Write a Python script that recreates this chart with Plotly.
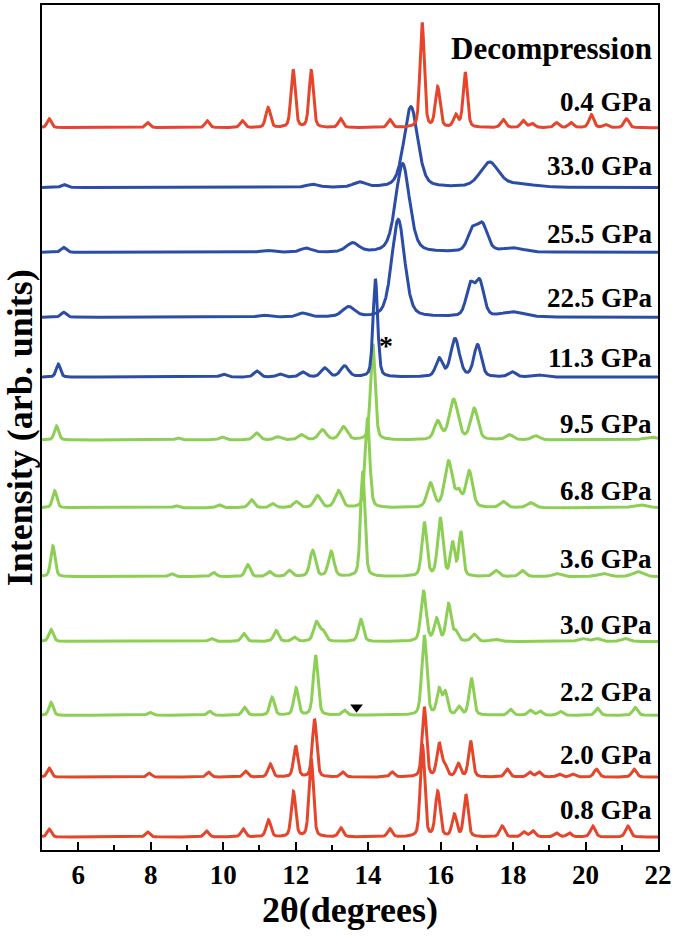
import numpy as np
import plotly.graph_objects as go

# stacked XRD patterns, bottom to top; heights/offsets in arb. units
labels = ["0.8 GPa", "2.0 GPa", "2.2 GPa", "3.0 GPa", "3.6 GPa", "6.8 GPa",
          "9.5 GPa", "11.3 GPa", "22.5 GPa", "25.5 GPa", "33.0 GPa", "0.4 GPa"]
offsets = [13, 73, 135, 209, 274, 343, 411, 474, 534, 599, 664, 724]
label_y = [40, 95, 158, 226, 292, 360, 427, 493, 553, 617, 686, 750]

RED, GREEN, BLUE = "#E4452B", "#8DCF55", "#2C4DA6"
colors = [RED, RED, GREEN, GREEN, GREEN, GREEN, GREEN, BLUE, BLUE, BLUE, BLUE, RED]

# peak positions (2theta), heights, widths (fwhm) for each pattern
pos_08 = [5.2, 7.92, 9.54, 10.55, 11.25, 11.94, 12.43, 13.25, 14.6, 15.5, 15.92, 16.38, 16.7, 17.7, 18.3, 18.55, 19.2, 19.55, 20.2, 21.17]
hgt_08 = [8, 5, 6, 8, 17, 45, 78, 9, 8, 92, 45, 22, 42, 11, 5, 6, 4, 4, 11, 11]
wid_08 = [0.14, 0.15, 0.15, 0.15, 0.15, 0.14, 0.14, 0.15, 0.15, 0.14, 0.15, 0.15, 0.14, 0.16, 0.16, 0.16, 0.16, 0.16, 0.16, 0.16]

pos_20 = [5.2, 7.96, 9.6, 10.62, 11.3, 12.0, 12.52, 13.3, 14.67, 15.55, 15.96, 16.12, 16.49, 16.83, 17.84, 18.46, 18.72, 19.27, 19.64, 20.3, 21.34]
hgt_20 = [9, 4, 5, 6, 13, 31, 58, 5, 5, 70, 33, 11, 13, 36, 8, 5, 5, 3, 3, 8, 8]
wid_20 = [0.14, 0.15, 0.15, 0.15, 0.15, 0.14, 0.14, 0.15, 0.15, 0.14, 0.15, 0.15, 0.15, 0.14, 0.16, 0.16, 0.16, 0.16, 0.16, 0.16, 0.16]

pos_22 = [5.25, 7.98, 9.63, 10.59, 11.35, 12.01, 12.55, 13.35, 15.55, 15.96, 16.13, 16.51, 16.85, 17.93, 18.48, 18.75, 19.3, 20.33, 21.37]
hgt_22 = [13, 3, 4, 8, 18, 27, 60, 5, 80, 25, 22, 8, 37, 6, 5, 4, 4, 7, 8]
wid_22 = [0.14, 0.15, 0.15, 0.15, 0.15, 0.15, 0.15, 0.15, 0.16, 0.15, 0.15, 0.15, 0.15, 0.16, 0.16, 0.16, 0.16, 0.16, 0.16]

pos_30 = [5.25, 9.67, 10.57, 11.46, 11.97, 12.57, 12.75, 13.8, 15.53, 15.89, 16.22, 16.42, 16.93, 17.5, 19.9, 20.3, 21.1]
hgt_30 = [12, 3, 8, 11, 4, 19, 10, 22, 50, 22, 37, 9, 7, 2, 3, 3, 3]
wid_30 = [0.15, 0.16, 0.16, 0.16, 0.16, 0.18, 0.18, 0.16, 0.17, 0.16, 0.16, 0.16, 0.18, 0.25, 0.25, 0.25, 0.25]

pos_36 = [5.3, 8.57, 9.74, 10.68, 11.28, 11.83, 12.47, 12.98, 13.85, 15.55, 15.99, 16.33, 16.56, 17.53, 18.26, 19.2, 20.5, 21.45]
hgt_36 = [31, 3, 4, 12, 5, 6, 26, 25, 106, 54, 58, 33, 44, 6, 6, 3, 3, 5]
wid_36 = [0.14, 0.16, 0.16, 0.16, 0.18, 0.18, 0.18, 0.18, 0.14, 0.16, 0.17, 0.14, 0.14, 0.2, 0.2, 0.25, 0.35, 0.35]

pos_68 = [5.35, 8.7, 9.88, 10.78, 11.37, 12.02, 12.6, 13.18, 13.98, 15.72, 16.22, 16.5, 16.79, 17.73, 18.49, 21.5]
hgt_68 = [17, 2, 3, 8, 4, 6, 12, 17, 90, 24, 46, 14, 36, 6, 5, 3]
wid_68 = [0.14, 0.16, 0.16, 0.18, 0.18, 0.2, 0.22, 0.22, 0.15, 0.22, 0.25, 0.18, 0.22, 0.22, 0.25, 0.45]

pos_95 = [5.4, 8.75, 9.96, 10.92, 11.5, 12.16, 12.74, 13.32, 14.13, 15.92, 16.36, 16.93, 17.9, 18.63, 21.8]
hgt_95 = [14, 2, 3, 7, 3, 5, 10, 13, 96, 18, 40, 31, 5, 4, 3]
wid_95 = [0.14, 0.16, 0.18, 0.2, 0.2, 0.22, 0.24, 0.24, 0.15, 0.22, 0.28, 0.24, 0.24, 0.25, 0.45]

pos_113 = [5.45, 10.0, 10.93, 11.56, 12.2, 12.8, 13.35, 14.2, 15.96, 16.4, 17.02, 17.98, 18.7]
hgt_113 = [13, 3, 6, 3, 5, 9, 11, 98, 18, 38, 32, 5, 2]
wid_113 = [0.14, 0.2, 0.2, 0.2, 0.22, 0.24, 0.26, 0.15, 0.22, 0.28, 0.24, 0.24, 0.35]

pos_225 = [5.6, 11.1, 12.2, 13.46, 14.83, 16.82, 17.08, 18.0]
hgt_225 = [5, 2, 4, 10, 98, 31, 34, 5]
wid_225 = [0.18, 0.35, 0.35, 0.4, 0.42, 0.27, 0.27, 0.7]

pos_255 = [5.6, 11.19, 12.29, 13.57, 14.95, 16.87, 17.15, 18.0]
hgt_255 = [5, 2, 4, 9, 89, 20, 27, 4]
wid_255 = [0.18, 0.35, 0.35, 0.4, 0.45, 0.3, 0.34, 0.7]

pos_330 = [5.6, 12.47, 13.76, 15.18, 17.35, 18.2]
hgt_330 = [3, 3, 5, 81, 25, 3]
wid_330 = [0.18, 0.4, 0.4, 0.45, 0.6, 0.9]

pos_04 = [5.2, 7.92, 9.56, 10.53, 11.24, 11.93, 12.43, 13.24, 14.6, 15.49, 15.92, 16.42, 16.68, 17.73, 18.28, 18.53, 19.2, 19.6, 20.16, 20.55, 21.13]
hgt_04 = [9, 5, 7, 7, 20, 58, 57, 9, 8, 105, 40, 12, 55, 8, 7, 4, 5, 5, 13, 3, 9]
wid_04 = [0.14, 0.15, 0.15, 0.15, 0.15, 0.14, 0.14, 0.15, 0.15, 0.14, 0.15, 0.15, 0.14, 0.16, 0.16, 0.16, 0.16, 0.16, 0.16, 0.16, 0.16]

peaks = [(pos_08, hgt_08, wid_08), (pos_20, hgt_20, wid_20), (pos_22, hgt_22, wid_22),
         (pos_30, hgt_30, wid_30), (pos_36, hgt_36, wid_36), (pos_68, hgt_68, wid_68),
         (pos_95, hgt_95, wid_95), (pos_113, hgt_113, wid_113), (pos_225, hgt_225, wid_225),
         (pos_255, hgt_255, wid_255), (pos_330, hgt_330, wid_330), (pos_04, hgt_04, wid_04)]

x = np.arange(5.0, 22.0001, 0.004)


def profile(pos, hgt, wid, eta=0.35):
    y = np.zeros_like(x)
    for p, h, w in zip(pos, hgt, wid):
        g = np.exp(-4 * np.log(2) * ((x - p) / w) ** 2)
        lor = 1 / (1 + 4 * ((x - p) / w) ** 2)
        y += h * ((1 - eta) * g + eta * lor)
    return y


fig = go.Figure()
for (pos, hgt, wid), off, col in zip(peaks, offsets, colors):
    fig.add_trace(go.Scatter(x=x, y=off + profile(pos, hgt, wid), mode="lines",
                             line=dict(color=col, width=3), hoverinfo="skip"))

# down triangle marker
fig.add_trace(go.Scatter(x=[13.68], y=[143], mode="markers",
                         marker=dict(symbol="triangle-down", size=11, color="black")))

serif = "Liberation Serif, Times New Roman, serif"
ann = [dict(x=0.993, y=ly, xref="paper", yref="y", text=f"<b>{t}</b>", showarrow=False,
            xanchor="right", yanchor="middle", font=dict(size=27, color="black", family=serif))
       for t, ly in zip(labels, label_y)]
ann.append(dict(x=0.993, y=803, xref="paper", yref="y", text="<b>Decompression</b>", showarrow=False,
                xanchor="right", yanchor="middle", font=dict(size=31, color="black", family=serif)))
ann.append(dict(x=14.5, y=506, text="<b>*</b>", showarrow=False,
                font=dict(size=28, color="black", family=serif)))
ann.append(dict(x=-0.036, y=0.5, xref="paper", yref="paper", text="<b>Intensity (arb. units)</b>",
                showarrow=False, textangle=-90, xanchor="center", yanchor="middle",
                font=dict(size=36, color="black", family=serif)))
ann.append(dict(x=0.5, y=-0.071, xref="paper", yref="paper", text="<b>2θ(degrees)</b>",
                showarrow=False, xanchor="center", yanchor="middle",
                font=dict(size=36, color="black", family=serif)))

fig.update_layout(
    width=675, height=937,
    margin=dict(l=42, r=16, t=3, b=87),
    plot_bgcolor="white", paper_bgcolor="white",
    showlegend=False,
    annotations=ann,
    xaxis=dict(range=[5, 22], tick0=6, dtick=2, ticks="inside", ticklen=8, tickwidth=2,
               tickcolor="black", showline=True, linecolor="black", linewidth=2, mirror=True,
               showgrid=False, zeroline=False, ticklabeloverflow="allow",
               minor=dict(dtick=1, tick0=5, ticks="inside", ticklen=5, tickwidth=2, tickcolor="black"),
               tickfont=dict(size=27, color="black", family=serif),
               tickprefix="<b>", ticksuffix="</b>"),
    yaxis=dict(range=[0, 847], showticklabels=False, ticks="", showline=True, linecolor="black",
               linewidth=2, mirror=True, showgrid=False, zeroline=False),
)

fig.write_html("out.html", config={"displayModeBar": False},
               post_script="document.body.style.margin='0';")
